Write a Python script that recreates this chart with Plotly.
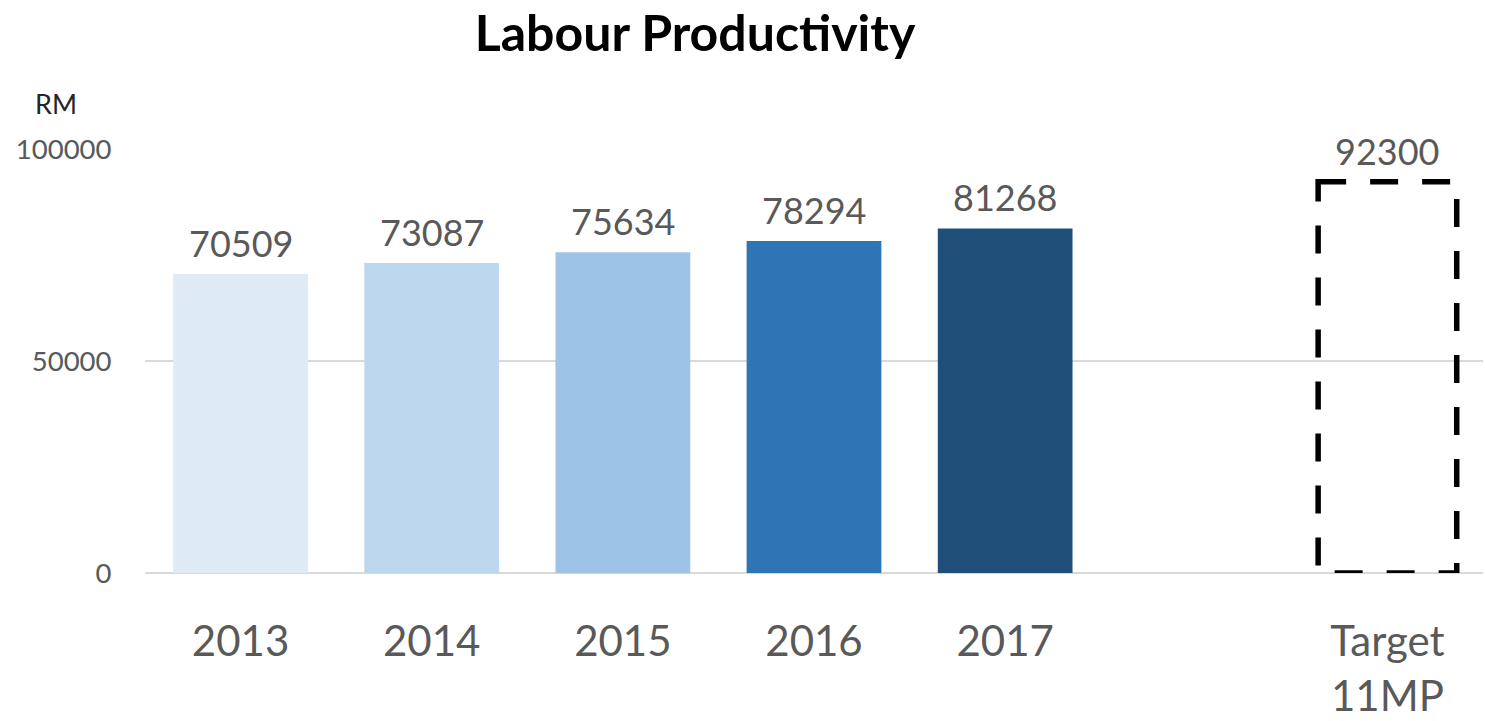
import plotly.graph_objects as go

categories = ["2013", "2014", "2015", "2016", "2017", " ", "Target<br>11MP"]
years = ["2013", "2014", "2015", "2016", "2017"]
values = [70509, 73087, 75634, 78294, 81268]
bar_colors = ["#DEEBF7", "#BDD7EE", "#9DC3E6", "#2E75B6", "#1F4E79"]
target_label = "Target<br>11MP"
target_value = 92300
y_ticks = [0, 50000, 100000]

BARGAP = 0.295
bar_w = 1 - BARGAP
FONT = "Lato, Open Sans, sans-serif"
TXT = "#595959"

fig = go.Figure()
fig.add_trace(go.Bar(
    x=years, y=values,
    marker=dict(color=bar_colors, line=dict(width=0)),
    hoverinfo="skip",
))

ti = categories.index(target_label)
x0, x1 = ti - bar_w / 2 - 0.01, ti + bar_w / 2 + 0.01
fig.add_shape(
    type="path", xref="x", yref="y",
    path=f"M {x0},{target_value} L {x1},{target_value} L {x1},0 L {x0},0 Z",
    line=dict(color="black", width=5.5, dash="28px,24px"),
    fillcolor="rgba(0,0,0,0)",
)

annotations = []
for xv, yv in list(zip(years, values)) + [(target_label, target_value)]:
    annotations.append(dict(
        x=categories.index(xv), y=yv, xref="x", yref="y", text=str(yv), showarrow=False,
        xanchor="center", yanchor="bottom", yshift=7,
        font=dict(family=FONT, size=36, color=TXT),
    ))
annotations.append(dict(text="RM", xref="paper", yref="paper", x=-0.0665, y=1.108,
                        xanchor="center", yanchor="middle", showarrow=False,
                        font=dict(family=FONT, size=27, color="#262626")))

W, H = 1485, 721
fig.update_layout(
    width=W, height=H,
    paper_bgcolor="white", plot_bgcolor="white",
    margin=dict(l=145, r=2, t=149, b=148),
    showlegend=False, bargap=BARGAP,
    title=dict(text="<b>Labour Productivity</b>", x=695 / W, xref="container",
               xanchor="center", y=1 - 33 / H, yanchor="middle",
               font=dict(family=FONT, size=50, color="black")),
    xaxis=dict(type="category", categoryorder="array", categoryarray=categories,
               range=[-0.5, len(categories) - 0.5],
               tickfont=dict(family=FONT, size=42, color=TXT),
               ticks="outside", ticklen=32, tickcolor="rgba(0,0,0,0)",
               showgrid=False, showline=False, zeroline=False),
    yaxis=dict(range=[0, 100000], tickvals=y_ticks, ticktext=[str(t) for t in y_ticks],
               tickfont=dict(family=FONT, size=27.5, color=TXT),
               showgrid=True, gridcolor="#D9D9D9", gridwidth=1.5,
               zeroline=True, zerolinecolor="#D9D9D9", zerolinewidth=2,
               ticks="outside", ticklen=27, tickcolor="rgba(0,0,0,0)",
               showline=False),
    annotations=annotations,
)

fig.write_html("out.html", config={"displayModeBar": False},
               post_script="document.body.style.margin='0';")
